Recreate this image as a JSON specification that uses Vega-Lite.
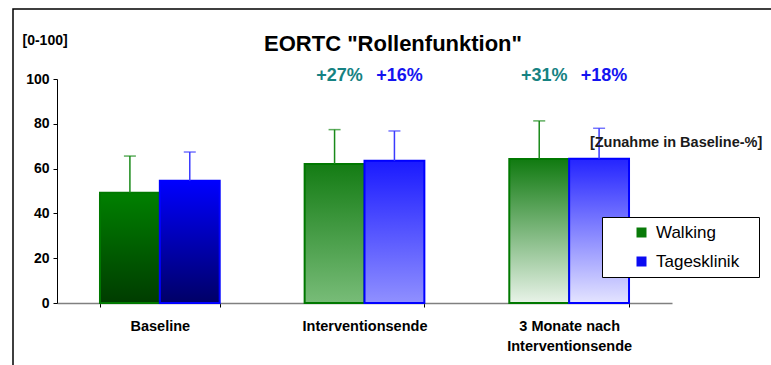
{
  "$schema": "https://vega.github.io/schema/vega-lite/v6.json",
  "autosize": {"type": "none"},
  "padding": {"left": 13, "top": 9, "right": 0, "bottom": 0},
  "width": 760,
  "height": 360,
  "background": "white",
  "config": {
    "view": {"stroke": "#000000", "strokeWidth": 1.5},
    "font": "Liberation Sans"
  },
  "title": {
    "text": "EORTC \"Rollenfunktion\"",
    "font": "Liberation Sans",
    "fontSize": 22,
    "fontWeight": "bold",
    "color": "#000000",
    "anchor": "middle",
    "frame": "group",
    "offset": -47
  },
  "data": {
    "values": [
      {"group": "Baseline", "series": "Walking", "value": 49.2, "err": 65.6, "change": null},
      {"group": "Baseline", "series": "Tagesklinik", "value": 54.6, "err": 67.4, "change": null},
      {"group": "Interventionsende", "series": "Walking", "value": 62.1, "err": 77.4, "change": "+27%"},
      {"group": "Interventionsende", "series": "Tagesklinik", "value": 63.5, "err": 76.8, "change": "+16%"},
      {"group": "3 Monate nach Interventionsende", "series": "Walking", "value": 64.3, "err": 81.3, "change": "+31%"},
      {"group": "3 Monate nach Interventionsende", "series": "Tagesklinik", "value": 64.4, "err": 78.0, "change": "+18%"}
    ]
  },
  "encoding": {
    "x": {
      "field": "group",
      "type": "nominal",
      "sort": ["Baseline", "Interventionsende", "3 Monate nach Interventionsende"],
      "scale": {"range": [44, 659], "paddingInner": 0.415, "paddingOuter": 0.21},
      "axis": {
        "orient": "bottom",
        "offset": -66,
        "title": null,
        "labelAngle": 0,
        "domainColor": "#808080",
        "domainWidth": 1.5,
        "tickColor": "#000000",
        "tickSize": 4,
        "tickBand": "extent",
        "labelFont": "Liberation Sans",
        "labelFontWeight": "bold",
        "labelFontSize": 14.5,
        "labelColor": "#000000",
        "labelPadding": 12,
        "labelLineHeight": 20,
        "labelExpr": "datum.label === '3 Monate nach Interventionsende' ? ['3 Monate nach', 'Interventionsende'] : datum.label"
      }
    },
    "xOffset": {
      "field": "series",
      "type": "nominal",
      "sort": ["Walking", "Tagesklinik"],
      "scale": {"paddingInner": 0, "paddingOuter": 0}
    }
  },
  "layer": [
    {
      "mark": {"type": "bar"},
      "encoding": {
        "y": {
          "field": "value",
          "type": "quantitative",
          "scale": {"domain": [0, 100], "range": [294, 70]},
          "axis": {
            "orient": "left",
            "offset": -44,
            "values": [0, 20, 40, 60, 80, 100],
            "grid": false,
            "domainColor": "#000000",
            "domainWidth": 1,
            "tickColor": "#000000",
            "tickSize": 4,
            "labelFont": "Liberation Sans",
            "labelFontWeight": "bold",
            "labelFontSize": 14,
            "labelColor": "#000000",
            "labelPadding": 4,
            "title": "[0-100]",
            "titleAngle": 0,
            "titleAlign": "left",
            "titleBaseline": "alphabetic",
            "titleX": -35,
            "titleY": 35,
            "titleFont": "Liberation Sans",
            "titleFontSize": 14,
            "titleFontWeight": "bold",
            "titleColor": "#000000"
          }
        },
        "color": {
          "field": "series",
          "type": "nominal",
          "scale": {"domain": ["Walking", "Tagesklinik"], "range": ["#087a08", "#0a0af2"]},
          "legend": {
            "orient": "none",
            "legendX": 589,
            "legendY": 208,
            "title": null,
            "strokeColor": "#000000",
            "fillColor": "#ffffff",
            "padding": 7,
            "symbolType": "square",
            "symbolSize": 100,
            "symbolOffset": 24,
            "symbolStrokeWidth": 0,
            "labelFont": "Liberation Sans",
            "labelFontSize": 17,
            "labelColor": "#000000",
            "labelOffset": 6,
            "rowPadding": 11,
            "labelExpr": "datum.label + '\u2800'"
          }
        }
      }
    },
    {
      "mark": {"type": "bar", "strokeWidth": 2},
      "encoding": {
        "y": {"field": "value", "type": "quantitative"},
        "fill": {
          "condition": [
            {"test": "datum.group === 'Baseline' && datum.series === 'Walking'",
             "value": {"gradient": "linear", "x1": 0, "y1": 0, "x2": 0, "y2": 1,
                       "stops": [{"offset": 0, "color": "#008000"}, {"offset": 1, "color": "#003c00"}]}},
            {"test": "datum.group === 'Baseline' && datum.series === 'Tagesklinik'",
             "value": {"gradient": "linear", "x1": 0, "y1": 0, "x2": 0, "y2": 1,
                       "stops": [{"offset": 0, "color": "#0000ff"}, {"offset": 1, "color": "#000066"}]}},
            {"test": "datum.group === 'Interventionsende' && datum.series === 'Walking'",
             "value": {"gradient": "linear", "x1": 0, "y1": 0, "x2": 0, "y2": 1,
                       "stops": [{"offset": 0, "color": "#147c14"}, {"offset": 1, "color": "#78bc78"}]}},
            {"test": "datum.group === 'Interventionsende' && datum.series === 'Tagesklinik'",
             "value": {"gradient": "linear", "x1": 0, "y1": 0, "x2": 0, "y2": 1,
                       "stops": [{"offset": 0, "color": "#1a1aff"}, {"offset": 1, "color": "#9090ff"}]}},
            {"test": "datum.group === '3 Monate nach Interventionsende' && datum.series === 'Walking'",
             "value": {"gradient": "linear", "x1": 0, "y1": 0, "x2": 0, "y2": 1,
                       "stops": [{"offset": 0, "color": "#107a10"}, {"offset": 1, "color": "#e8f3e8"}]}},
            {"test": "datum.group === '3 Monate nach Interventionsende' && datum.series === 'Tagesklinik'",
             "value": {"gradient": "linear", "x1": 0, "y1": 0, "x2": 0, "y2": 1,
                       "stops": [{"offset": 0, "color": "#2424ff"}, {"offset": 1, "color": "#e4e4ff"}]}}
          ],
          "value": "#888888"
        },
        "stroke": {
          "condition": {"test": "datum.series === 'Walking'", "value": "#007800"},
          "value": "#0000ff"
        }
      }
    },
    {
      "mark": {"type": "rule", "strokeWidth": 1.5},
      "encoding": {
        "y": {"field": "value", "type": "quantitative"},
        "y2": {"field": "err"},
        "color": {
          "condition": {"test": "datum.series === 'Walking'", "value": "#1a8a1a"},
          "value": "#3a3aff"
        }
      }
    },
    {
      "mark": {"type": "tick", "orient": "horizontal", "size": 12, "thickness": 1.5},
      "encoding": {
        "y": {"field": "err", "type": "quantitative"},
        "color": {
          "condition": {"test": "datum.series === 'Walking'", "value": "#1a8a1a"},
          "value": "#3a3aff"
        }
      }
    },
    {
      "transform": [{"filter": "datum.change != null"}],
      "mark": {"type": "text", "font": "Liberation Sans", "fontSize": 18, "fontWeight": "bold", "baseline": "middle", "align": "center", "dx": 5},
      "encoding": {
        "y": {"datum": 101.3, "type": "quantitative"},
        "text": {"field": "change"},
        "color": {
          "condition": {"test": "datum.series === 'Walking'", "value": "#168282"},
          "value": "#1414f0"
        }
      }
    },
    {
      "transform": [{"filter": "datum.group === '3 Monate nach Interventionsende' && datum.series === 'Tagesklinik'"}],
      "mark": {"type": "text", "font": "Liberation Sans", "fontSize": 14.5, "fontWeight": "bold", "baseline": "middle", "align": "center", "dx": 77, "color": "#1a1a1a"},
      "encoding": {
        "y": {"datum": 71.4, "type": "quantitative"},
        "text": {"value": "[Zunahme in Baseline-%]"}
      }
    }
  ]
}
